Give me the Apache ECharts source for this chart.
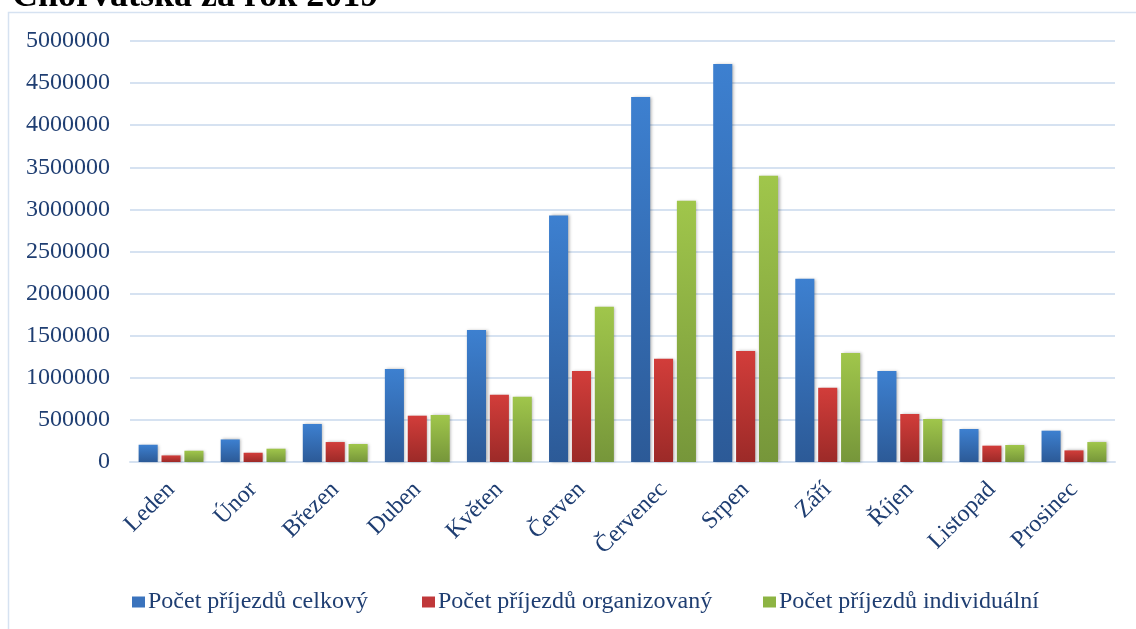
<!DOCTYPE html>
<html>
<head>
<meta charset="utf-8">
<script src="https://cdn.jsdelivr.net/npm/echarts@6/dist/echarts.min.js"></script>
<style>
html,body{margin:0;padding:0;background:#fff;}
#c{width:1136px;height:629px;}
</style>
</head>
<body>
<div id="c"></div>
<script>
const categories = ['Leden','Únor','Březen','Duben','Květen','Červen','Červenec','Srpen','Září','Říjen','Listopad','Prosinec'];
const seriesNames = ['Počet příjezdů celkový','Počet příjezdů organizovaný','Počet příjezdů individuální'];
const celkovy = [205000, 268000, 451000, 1104000, 1568000, 2929000, 4335000, 4727000, 2177000, 1081000, 392000, 372000];
const organizovany = [78000, 110000, 237000, 550000, 799000, 1081000, 1227000, 1318000, 882000, 570000, 194000, 138000];
const individualni = [134000, 158000, 214000, 558000, 776000, 1845000, 3103000, 3400000, 1294000, 511000, 202000, 237000];
const titleText = 'Chorvatska za rok 2019';

const FONT = "'Liberation Serif', 'DejaVu Serif', serif";
const TXT = '#1f3e72';

function grad(top, bottom){
  return new echarts.graphic.LinearGradient(0,0,0,1,[{offset:0,color:top},{offset:1,color:bottom}]);
}
const colors = [grad('#3d80d0','#2c5a97'), grad('#d23d3a','#9c2a28'), grad('#a0c64b','#76963a')];
const iconColors = ['#3a73bd','#c0383a','#8db443'];
const dataArr = [celkovy, organizovany, individualni];

const chart = echarts.init(document.getElementById('c'), null, {renderer:'canvas'});
const legendLefts = [127, 417, 758];
chart.setOption({
  animation:false,
  backgroundColor:'#ffffff',
  graphic:[
    {type:'rect', shape:{x:8.5,y:12.5,width:1200,height:700}, style:{fill:'none',stroke:'#d6e2f1',lineWidth:1.5}, z:-1},
    {type:'text', left:12, top:-21, style:{text:titleText, font:"bold 36px 'Liberation Serif', serif", fill:'#000'}}
  ],
  legend: seriesNames.map((n,i)=>({
    data:[{name:n, icon:'rect', itemStyle:{color:iconColors[i]}}],
    left:legendLefts[i], top:585, itemWidth:13, itemHeight:11, itemGap:0,
    textStyle:{fontFamily:FONT, fontSize:24, color:TXT, padding:[0,0,0,-2]}
  })),
  grid:{left:130, right:21, top:41, bottom:167, containLabel:false},
  xAxis:{
    type:'category', data:categories,
    axisLine:{lineStyle:{color:'#d6e2f1', width:2}},
    axisTick:{show:false},
    axisLabel:{rotate:45, fontFamily:FONT, fontSize:24, color:TXT, margin:24, interval:0}
  },
  yAxis:{
    type:'value', min:0, max:5000000, interval:500000,
    axisLine:{show:false}, axisTick:{show:false},
    splitLine:{lineStyle:{color:'#d6e2f1', width:2}},
    axisLabel:{fontFamily:FONT, fontSize:24, color:TXT, margin:20, formatter:function(v){return String(v);}}
  },
  series: seriesNames.map((n,i)=>({
    name:n, type:'bar', data:dataArr[i],
    barGap:'20%', barCategoryGap:'21%',
    itemStyle:{color:colors[i], shadowBlur:3, shadowColor:'rgba(0,0,0,0.3)', shadowOffsetX:1.5, shadowOffsetY:0}
  }))
});
</script>
</body>
</html>
